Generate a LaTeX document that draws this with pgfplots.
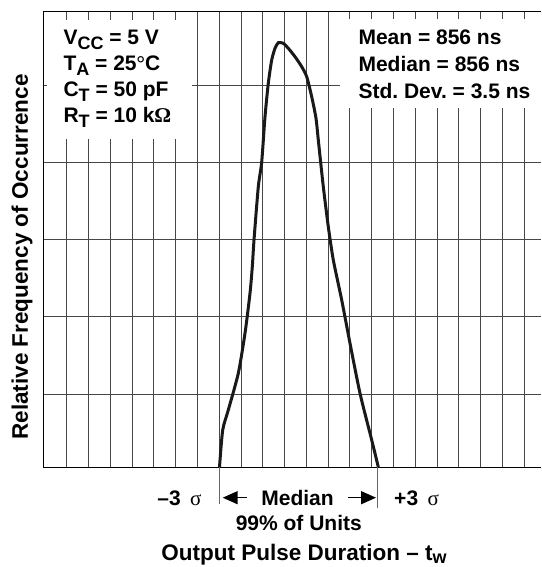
\documentclass[border=0pt]{standalone}
\usepackage{fontspec}
\setmainfont{Liberation Sans}
\newfontfamily\symfont{Liberation Serif}
\usepackage{pgfplots}
\pgfplotsset{compat=1.18}
\usetikzlibrary{arrows.meta}
% lowered, slightly smaller subscript as in the data sheet
\newcommand{\sub}[1]{\raisebox{-4.5pt}{\fontsize{18}{18}\selectfont #1}}

\begin{document}
\begin{tikzpicture}
\begin{axis}[
    name=ax, at={(0,0)}, anchor=south west,
    scale only axis,
    width=497.7pt, height=455pt,
    xmin=0, xmax=497.7, ymin=0, ymax=455,
    axis x line=box, axis y line=left,
    axis line style={-, black, line width=1pt},
    xtick={23.4,45.18,...,481},
    ytick={73,150.7,228,305,382},
    xticklabels={}, yticklabels={},
    major tick length=0pt,
    grid=major,
    major grid style={black!72, line width=0.8pt},
    clip=false,
    font=\bfseries\fontsize{21}{25}\selectfont
]
% white boxes behind the condition texts
\fill[white] (axis cs:4,328) rectangle (axis cs:148.7,447);
\fill[white] (axis cs:296.7,359) rectangle (axis cs:497.7,448);

% distribution curve
\addplot[line width=3pt, black!90, smooth, tension=0.4] coordinates {
    (176.2,0) (179.4,37) (185,57) (195,93.7) (201.7,133.7)
    (206.7,173.7) (209,200.3) (210.7,227) (215,280.3) (218.4,305)
    (221.7,350.3) (225,383.7) (228.4,407) (231.7,418.7) (235,424.3)
    (240,423.7) (245,418.7) (251.7,410.3) (258.4,400.3) (263.4,390.3)
    (268.4,370.3) (272.7,348.7) (275,327) (280,280.3) (285,240.3)
    (290,207) (298.4,167) (306.7,123.7) (316.7,73.7) (328.4,27) (335,0)
};

% test conditions
\node[anchor=base west] at (axis cs:16.7,422) {V\sub{CC} = 5 V};
\node[anchor=base west] at (axis cs:16.7,396) {T\sub{A} = 25{\symfont°}C};
\node[anchor=base west] at (axis cs:16.7,370.3) {C\sub{T} = 50 pF};
\node[anchor=base west] at (axis cs:16.7,344) {R\sub{T} = 10 k{\symfont Ω}};

% statistics
\node[anchor=base west] at (axis cs:311.7,422) {Mean = 856 ns};
\node[anchor=base west] at (axis cs:311.7,395.3) {Median = 856 ns};
\node[anchor=base west] at (axis cs:311.7,368.7) {Std.\ Dev.\ = 3.5 ns};

% sigma markers below the axis
\draw[black!60, line width=0.8pt] (axis cs:176,0) -- (axis cs:176,-37);
\draw[black!60, line width=0.8pt] (axis cs:334,0) -- (axis cs:334,-41);
\draw[-{Triangle[length=15pt,width=13pt]}, line width=1.5pt]
    (axis cs:203.4,-30.7) -- (axis cs:179.4,-30.7);
\draw[-{Triangle[length=15pt,width=13pt]}, line width=1.5pt]
    (axis cs:304.7,-30.7) -- (axis cs:332.7,-30.7);
\node[anchor=base east] at (axis cs:161.7,-38) {–3\hspace{0.45em}{\symfont\mdseries σ}};
\node[anchor=base] at (axis cs:254.2,-38) {Median};
\node[anchor=base west] at (axis cs:347.4,-38) {+3\hspace{0.45em}{\symfont\mdseries σ}};
\node[anchor=base] at (axis cs:255.5,-63) {99\% of Units};

% axis titles
\node[anchor=base, font=\bfseries\fontsize{22.5}{26}\selectfont]
    at (axis cs:260.7,-93) {Output Pulse Duration – t\raisebox{-3.5pt}{\fontsize{18}{18}\selectfont w}};
\node[anchor=base, rotate=90, font=\bfseries\fontsize{22.5}{26}\selectfont]
    at (axis cs:-15.5,210) {Relative Frequency of Occurrence};
\end{axis}
\pgfresetboundingbox
\path ([shift={(-43.3pt,-100pt)}]ax.south west) rectangle ([shift={(0pt,12pt)}]ax.north east);
\end{tikzpicture}
\end{document}
